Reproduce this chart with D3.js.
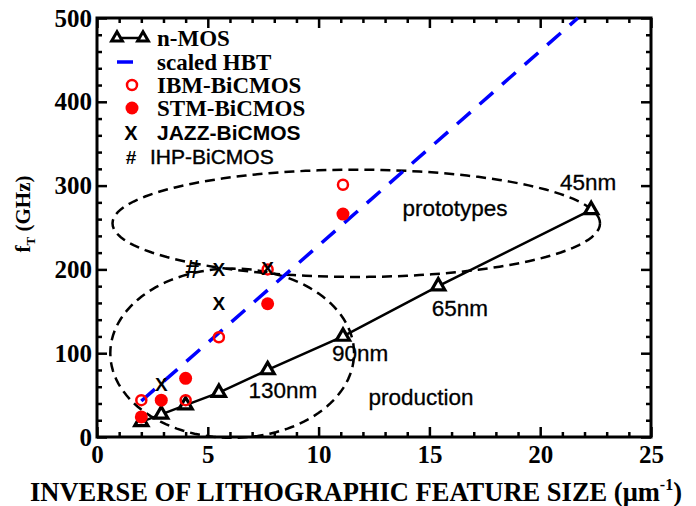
<!DOCTYPE html>
<html><head><meta charset="utf-8">
<script src="https://cdn.jsdelivr.net/npm/d3@7"></script>
<style>body{margin:0;background:#fff}</style></head><body>
<svg id="c" width="696" height="506"></svg>
<script>
// ---------- data ----------
const xTicks = [0, 5, 10, 15, 20, 25];
const yTicks = [0, 100, 200, 300, 400, 500];
const nmosX = [2.0, 2.9, 4.0, 5.5, 7.7, 11.1, 15.4, 22.3];
const nmosY = [18, 27, 38, 53, 80, 120, 180, 271];
const hbtX = [2.0, 21.7];
const hbtY = [43, 500];
const ibmX = [2.0, 4.0, 5.5, 7.7, 11.1];
const ibmY = [44, 44, 119, 200, 301];
const stmX = [2.0, 2.9, 4.0, 7.7, 11.1];
const stmY = [24, 44, 70, 159, 266];
const jazzX = [2.9, 5.5, 5.5, 7.7];
const jazzY = [63, 160, 200, 202];
const ihpX = [4.3];
const ihpY = [201];
// annotation texts and their anchor points (data units)
const noteText = ["45nm", "prototypes", "65nm", "90nm", "130nm", "production"];
const noteX = [22.16, 16.16, 16.38, 11.87, 8.39, 14.62];
const noteY = [305, 273, 154, 100, 56, 48];
// grouping ellipses (data units): center x, center y, radius x, radius y
const ellCx = [6.1, 11.7];
const ellCy = [100, 255];
const ellRx = [5.5, 11.0];
const ellRy = [101, 64];

// ---------- layout ----------
const L = 97, R = 651, T = 18, B = 437;
const svg = d3.select("#c");
const x = d3.scaleLinear().domain([0, 25]).range([L, R]);
const y = d3.scaleLinear().domain([0, 500]).range([B, T]);
const serif = "'Liberation Serif','Times New Roman',serif";
const sans = "'Liberation Sans',Arial,Helvetica,sans-serif";

// ---------- axes ----------
const xMinor = d3.range(0, 26, 1).filter(v => v % 5 !== 0);
const yMinor = d3.range(0, 501, 20).filter(v => v % 100 !== 0);
function styleAxis(g) {
  g.select(".domain").remove();
  g.selectAll(".tick line").attr("stroke", "#000").attr("stroke-width", 2.5);
}
svg.append("g").attr("transform", `translate(0,${B})`)
  .call(d3.axisBottom(x).tickValues(xTicks).tickSize(-10).tickPadding(8).tickFormat(d3.format("d")))
  .call(styleAxis)
  .call(g => g.selectAll("text").attr("font-family", serif).attr("font-weight", "bold").attr("font-size", 25).attr("fill", "#000"));
svg.append("g").attr("transform", `translate(0,${B})`)
  .call(d3.axisBottom(x).tickValues(xMinor).tickSize(-5).tickFormat("")).call(styleAxis);
svg.append("g").attr("transform", `translate(0,${T})`)
  .call(d3.axisTop(x).tickValues(xTicks).tickSize(-10).tickFormat("")).call(styleAxis);
svg.append("g").attr("transform", `translate(0,${T})`)
  .call(d3.axisTop(x).tickValues(xMinor).tickSize(-5).tickFormat("")).call(styleAxis);
svg.append("g").attr("transform", `translate(${L},0)`)
  .call(d3.axisLeft(y).tickValues(yTicks).tickSize(-10).tickPadding(5).tickFormat(d3.format("d")))
  .call(styleAxis)
  .call(g => g.selectAll("text").attr("font-family", serif).attr("font-weight", "bold").attr("font-size", 25).attr("fill", "#000"));
svg.append("g").attr("transform", `translate(${L},0)`)
  .call(d3.axisLeft(y).tickValues(yMinor).tickSize(-5).tickFormat("")).call(styleAxis);
svg.append("g").attr("transform", `translate(${R},0)`)
  .call(d3.axisRight(y).tickValues(yTicks).tickSize(-10).tickFormat("")).call(styleAxis);
svg.append("g").attr("transform", `translate(${R},0)`)
  .call(d3.axisRight(y).tickValues(yMinor).tickSize(-5).tickFormat("")).call(styleAxis);

svg.append("rect").attr("x", L).attr("y", T).attr("width", R - L).attr("height", B - T)
  .attr("fill", "none").attr("stroke", "#000").attr("stroke-width", 3);

// axis titles
const xt = svg.append("text").attr("x", 356).attr("y", 501).attr("text-anchor", "middle")
  .attr("font-family", serif).attr("font-weight", "bold").attr("font-size", 26.5).attr("fill", "#000");
xt.append("tspan").text("INVERSE OF LITHOGRAPHIC FEATURE SIZE (\u03BCm");
xt.append("tspan").attr("dy", -11).attr("font-size", 16).text("-1");
xt.append("tspan").attr("dy", 11).text(")");

const yt = svg.append("text").attr("transform", "translate(30,214) rotate(-90)").attr("text-anchor", "middle")
  .attr("font-family", serif).attr("font-weight", "bold").attr("font-size", 21).attr("fill", "#000");
yt.append("tspan").text("f");
yt.append("tspan").attr("dy", 5).attr("font-size", 13).text("T");
yt.append("tspan").attr("dy", -5).text(" (GHz)");

// ---------- plot ----------
const plot = svg.append("g");
// ellipses
const ellLine = d3.line().x(d => x(d[0])).y(d => y(d[1]));
ellCx.forEach((cx, i) => {
  const pts = d3.range(0, 361, 3).map(a => {
    const t = a * Math.PI / 180;
    return [cx + ellRx[i] * Math.cos(t), ellCy[i] + ellRy[i] * Math.sin(t)];
  });
  plot.append("path").attr("d", ellLine(pts)).attr("fill", "none")
    .attr("stroke", "#000").attr("stroke-width", 2.5).attr("stroke-dasharray", "10,6");
});

// scaled HBT
const hbt = hbtX.map((v, i) => [v, hbtY[i]]);
plot.append("path").attr("d", d3.line().x(d => x(d[0])).y(d => y(d[1]))(hbt))
  .attr("fill", "none").attr("stroke", "#0000ff").attr("stroke-width", 3.5).attr("stroke-dasharray", "18,12");

// n-MOS
const nmos = nmosX.map((v, i) => [v, nmosY[i]]);
plot.append("path").attr("d", d3.line().x(d => x(d[0])).y(d => y(d[1]))(nmos))
  .attr("fill", "none").attr("stroke", "#000").attr("stroke-width", 2.5);
const tri = d3.symbol().type(d3.symbolTriangle).size(75);
plot.selectAll(".tri").data(nmos).join("path").attr("class", "tri")
  .attr("d", tri).attr("transform", d => `translate(${x(d[0])},${y(d[1])})`)
  .attr("fill", "#fff").attr("stroke", "#000").attr("stroke-width", 3.2);

// IBM open circles
plot.selectAll(".ibm").data(ibmX.map((v, i) => [v, ibmY[i]])).join("circle").attr("class", "ibm")
  .attr("cx", d => x(d[0])).attr("cy", d => y(d[1])).attr("r", 5)
  .attr("fill", "none").attr("stroke", "#ff0000").attr("stroke-width", 2.5);
// STM filled circles
plot.selectAll(".stm").data(stmX.map((v, i) => [v, stmY[i]])).join("circle").attr("class", "stm")
  .attr("cx", d => x(d[0])).attr("cy", d => y(d[1])).attr("r", 6.5).attr("fill", "#ff0000");
// JAZZ X
plot.selectAll(".jazz").data(jazzX.map((v, i) => [v, jazzY[i]])).join("text").attr("class", "jazz")
  .attr("x", d => x(d[0])).attr("y", d => y(d[1])).attr("dy", "0.36em").attr("text-anchor", "middle")
  .attr("font-family", sans).attr("font-weight", "bold").attr("font-size", 19).attr("fill", "#000").text("X");
// IHP #
plot.selectAll(".ihp").data(ihpX.map((v, i) => [v, ihpY[i]])).join("text").attr("class", "ihp")
  .attr("x", d => x(d[0])).attr("y", d => y(d[1])).attr("dy", "0.36em").attr("text-anchor", "middle")
  .attr("font-family", sans).attr("font-weight", "bold").attr("font-size", 25).attr("fill", "#000").text("#");

// annotations
plot.selectAll(".note").data(noteText).join("text").attr("class", "note")
  .attr("x", (d, i) => x(noteX[i])).attr("y", (d, i) => y(noteY[i])).attr("dy", "0.36em")
  .attr("text-anchor", "middle").attr("font-family", sans).attr("font-size", 22.5)
  .attr("stroke", "#000").attr("stroke-width", 0.3).attr("fill", "#000").text(d => d);

// ---------- legend ----------
const lg = svg.append("g");
const legRows = [38, 62, 85, 108, 133, 157];
lg.append("line").attr("x1", 117).attr("x2", 143).attr("y1", legRows[0]).attr("y2", legRows[0])
  .attr("stroke", "#000").attr("stroke-width", 2.5);
[117, 143].forEach(px => lg.append("path").attr("d", d3.symbol().type(d3.symbolTriangle).size(50)())
  .attr("transform", `translate(${px},${legRows[0]})`).attr("fill", "#fff").attr("stroke", "#000").attr("stroke-width", 3));
lg.append("line").attr("x1", 117).attr("x2", 133).attr("y1", legRows[1]).attr("y2", legRows[1])
  .attr("stroke", "#0000ff").attr("stroke-width", 3.5);
lg.append("circle").attr("cx", 132).attr("cy", legRows[2]).attr("r", 5).attr("fill", "none")
  .attr("stroke", "#ff0000").attr("stroke-width", 2.5);
lg.append("circle").attr("cx", 132).attr("cy", legRows[3]).attr("r", 6.5).attr("fill", "#ff0000");
lg.append("text").attr("x", 131).attr("y", legRows[4]).attr("dy", "0.36em").attr("text-anchor", "middle")
  .attr("font-family", sans).attr("font-weight", "bold").attr("font-size", 20).text("X");
lg.append("text").attr("x", 131).attr("y", legRows[5]).attr("dy", "0.36em").attr("text-anchor", "middle")
  .attr("font-family", sans).attr("font-weight", "bold").attr("font-size", 19).text("#");
const legText = ["n-MOS", "scaled HBT", "IBM-BiCMOS", "STM-BiCMOS", "JAZZ-BiCMOS", "IHP-BiCMOS"];
legText.forEach((t, i) => {
  const isSans = i >= 4;
  lg.append("text").attr("x", i === 5 ? 150 : 157).attr("y", legRows[i]).attr("dy", "0.35em")
    .attr("font-family", isSans ? sans : serif).attr("font-weight", i === 5 ? "normal" : "bold")
    .attr("font-size", isSans ? 21 : 23).attr("fill", "#000")
    .attr("stroke", i === 5 ? "#000" : "none").attr("stroke-width", 0.4).text(t);
});
</script>
</body></html>
